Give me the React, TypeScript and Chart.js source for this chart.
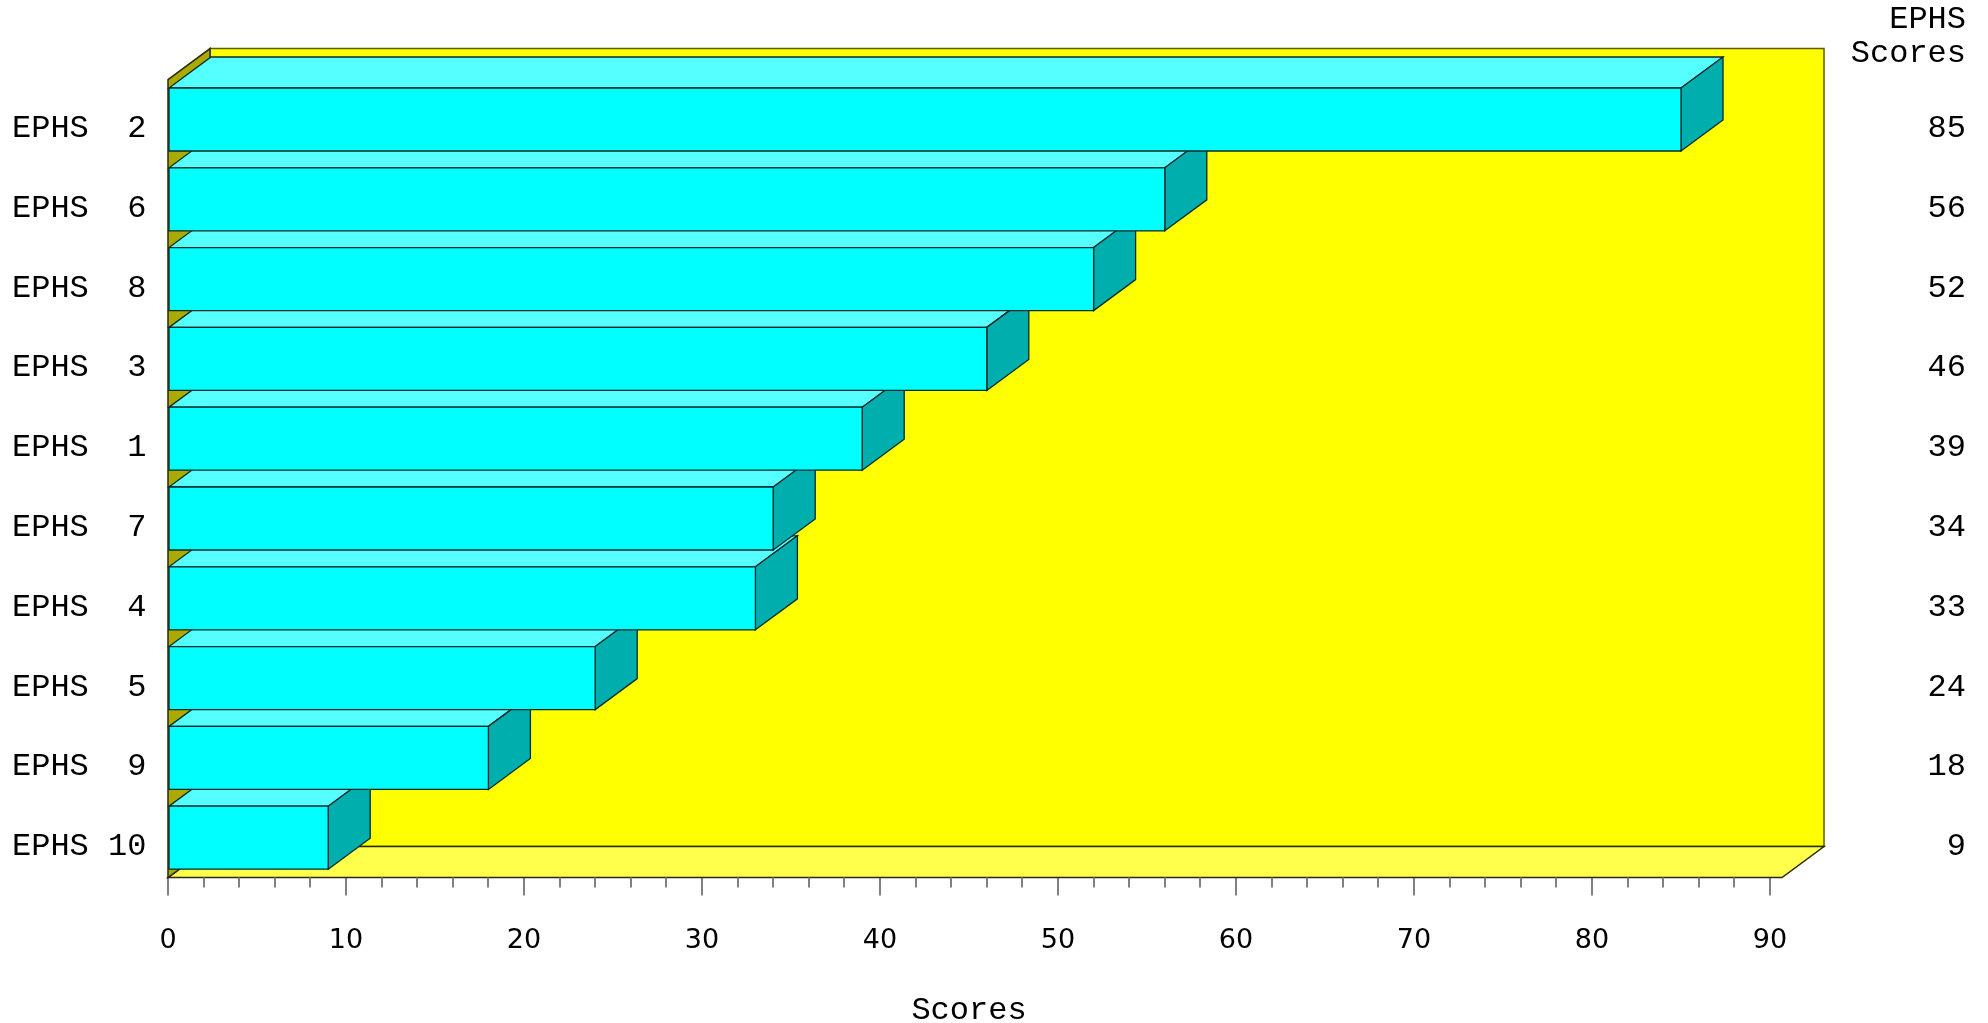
import { useEffect, useRef } from 'react';
import { Chart, registerables } from 'chart.js';

Chart.register(...registerables);

// ---- data ----
const categories = ['EPHS  2', 'EPHS  6', 'EPHS  8', 'EPHS  3', 'EPHS  1', 'EPHS  7', 'EPHS  4', 'EPHS  5', 'EPHS  9', 'EPHS 10'];
const scores = [85, 56, 52, 46, 39, 34, 33, 24, 18, 9];
const scoreLabels = scores.map(String);
const headerLines = ['EPHS', 'Scores'];
const xTitle = 'Scores';
const xMin = 0;
const xMax = 90;
const xMajorStep = 10;
const xMinorStep = 2;

// ---- style ----
const DX = 42;
const DY = 31;
const MONO = '"Courier New", "Nimbus Mono PS", "Nimbus Mono L", FreeMono, "Liberation Mono", monospace';

function poly(ctx: CanvasRenderingContext2D, pts: number[][], fill: string, stroke: string, lw: number) {
  ctx.beginPath();
  ctx.moveTo(pts[0][0], pts[0][1]);
  for (let i = 1; i < pts.length; i++) ctx.lineTo(pts[i][0], pts[i][1]);
  ctx.closePath();
  ctx.fillStyle = fill;
  ctx.fill();
  ctx.strokeStyle = stroke;
  ctx.lineWidth = lw;
  ctx.stroke();
}

const box3d = {
  id: 'box3d',
  beforeDatasetsDraw(chart: any) {
    const { ctx } = chart;
    const { left: L, right: R, top: T, bottom: B } = chart.chartArea;
    const Rf = R + 12;
    ctx.save();
    ctx.lineJoin = 'miter';
    // back wall
    poly(ctx, [[L + DX, T - DY], [Rf + DX, T - DY], [Rf + DX, B - DY], [L + DX, B - DY]], '#ffff00', '#5c5c00', 1.5);
    // floor
    poly(ctx, [[L, B], [Rf, B], [Rf + DX, B - DY], [L + DX, B - DY]], '#ffff4c', '#2a2a00', 1.5);
    // left wall
    poly(ctx, [[L, T], [L + DX, T - DY], [L + DX, B - DY], [L, B]], '#aaaa00', '#2a2a00', 1.5);
    ctx.restore();
  },
  afterDatasetsDraw(chart: any) {
    const { ctx } = chart;
    const meta = chart.getDatasetMeta(0);
    ctx.save();
    ctx.lineJoin = 'miter';
    for (let i = meta.data.length - 1; i >= 0; i--) {
      const el = meta.data[i];
      const { x, y, base, height } = el.getProps(['x', 'y', 'base', 'height'], true);
      const top = y - height / 2;
      const bot = y + height / 2;
      poly(ctx, [[base, top], [x, top], [x + DX, top - DY], [base + DX, top - DY]], '#55ffff', '#0a2a2a', 1.3);
      poly(ctx, [[x, top], [x + DX, top - DY], [x + DX, bot - DY], [x, bot]], '#00aeae', '#0a2a2a', 1.3);
      poly(ctx, [[base, top], [x, top], [x, bot], [base, bot]], '#00ffff', '#0a2a2a', 1.3);
    }
    // minor ticks
    const xs = chart.scales.x;
    const B = chart.chartArea.bottom;
    ctx.strokeStyle = '#808080';
    ctx.lineWidth = 2;
    for (let v = xMin; v <= xMax; v += xMinorStep) {
      if (v % xMajorStep === 0) continue;
      const px = Math.round(xs.getPixelForValue(v));
      ctx.beginPath();
      ctx.moveTo(px, B);
      ctx.lineTo(px, B + 10);
      ctx.stroke();
    }
    ctx.restore();
  },
};

export default function App() {
  const ref = useRef<HTMLCanvasElement>(null);
  useEffect(() => {
    document.body.style.margin = '0';
    const chart = new Chart(ref.current as HTMLCanvasElement, {
      type: 'bar',
      data: {
        labels: categories,
        datasets: [
          {
            data: scores,
            backgroundColor: '#00ffff',
            borderColor: '#0a2a2a',
            borderWidth: 1,
            barPercentage: 0.79,
            categoryPercentage: 1,
            xAxisID: 'x',
            yAxisID: 'y',
          },
        ],
      },
      options: {
        indexAxis: 'y',
        responsive: false,
        animation: false,
        devicePixelRatio: 1,
        layout: { padding: { left: 12, right: 22, top: 0, bottom: 0 } },
        plugins: {
          legend: { display: false },
          tooltip: { enabled: false },
          title: {
            display: true,
            text: headerLines,
            align: 'end',
            color: '#000',
            font: { family: MONO, size: 32, weight: 'normal', lineHeight: 34 / 32 },
            padding: { top: 2.5, bottom: 9.1 },
          },
        },
        scales: {
          x: {
            type: 'linear',
            position: 'bottom',
            min: xMin,
            max: xMax,
            ticks: {
              stepSize: xMajorStep,
              color: '#000',
              padding: 29,
              font: { family: 'DejaVu Sans', size: 27 },
              maxRotation: 0,
            },
            grid: { drawOnChartArea: false, drawTicks: true, tickLength: 18, color: '#808080', lineWidth: 2 },
            border: { display: false },
            title: {
              display: true,
              text: xTitle,
              color: '#000',
              font: { family: MONO, size: 32, lineHeight: 0.8 },
              padding: 0,
            },
            afterFit: (s: any) => {
              s.height = 145.4;
            },
          },
          y: {
            type: 'category',
            position: 'left',
            offset: true,
            grid: { display: false },
            border: { display: false },
            ticks: {
              color: '#000',
              crossAlign: 'far',
              labelOffset: 9,
              padding: 0,
              font: { family: MONO, size: 32 },
            },
            afterFit: (s: any) => {
              s.width = 156;
            },
          },
          y2: {
            type: 'category',
            labels: scoreLabels,
            position: 'right',
            offset: true,
            grid: { display: false },
            border: { display: false },
            ticks: {
              color: '#000',
              crossAlign: 'far',
              labelOffset: 9,
              padding: 0,
              font: { family: MONO, size: 32 },
            },
            afterFit: (s: any) => {
              s.width = 196;
            },
          },
        },
      } as any,
      plugins: [box3d],
    });
    return () => chart.destroy();
  }, []);
  return <canvas ref={ref} width={1988} height={1023} style={{ display: 'block' }} />;
}
